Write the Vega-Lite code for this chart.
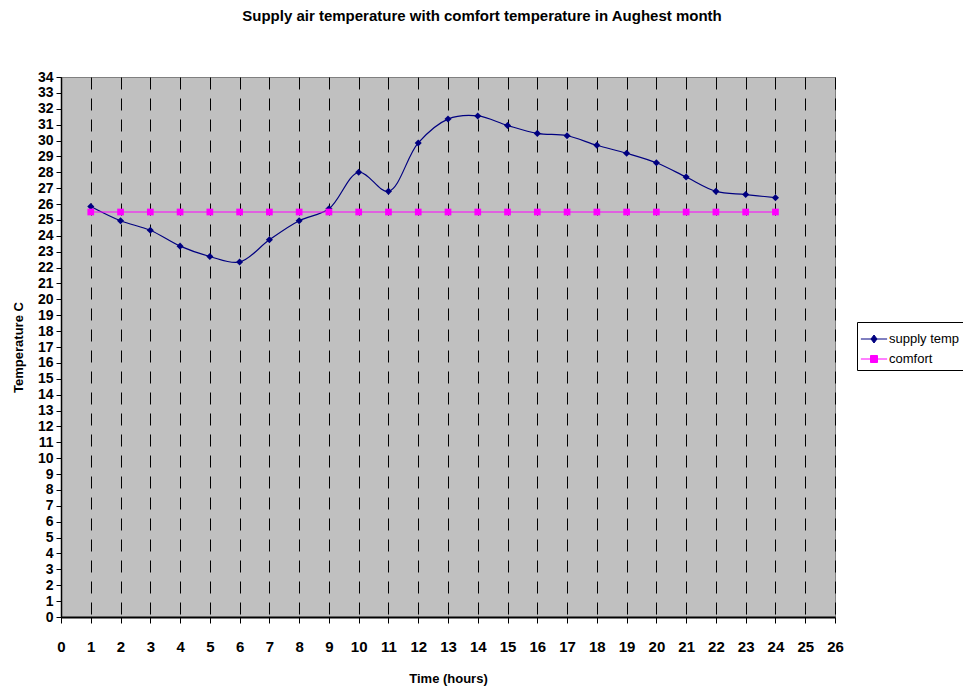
{
  "$schema": "https://vega.github.io/schema/vega-lite/v6.json",
  "autosize": {"type": "none"},
  "padding": {"left": 61, "top": 77, "right": 128, "bottom": 69},
  "width": 774,
  "height": 540,
  "background": "white",
  "config": {
    "view": {"fill": "#C0C0C0", "stroke": "#808080", "strokeWidth": 1},
    "font": "Liberation Sans"
  },
  "title": {
    "text": "Supply air temperature with comfort temperature in Aughest month",
    "font": "Liberation Sans",
    "fontSize": 15,
    "fontWeight": "bold",
    "color": "black",
    "anchor": "middle",
    "dx": 34,
    "offset": 46
  },
  "data": {
    "values": [
      {"hour": 1, "temp": 25.85, "series": "supply temp"},
      {"hour": 2, "temp": 24.95, "series": "supply temp"},
      {"hour": 3, "temp": 24.35, "series": "supply temp"},
      {"hour": 4, "temp": 23.35, "series": "supply temp"},
      {"hour": 5, "temp": 22.7, "series": "supply temp"},
      {"hour": 6, "temp": 22.35, "series": "supply temp"},
      {"hour": 7, "temp": 23.75, "series": "supply temp"},
      {"hour": 8, "temp": 24.95, "series": "supply temp"},
      {"hour": 9, "temp": 25.7, "series": "supply temp"},
      {"hour": 10, "temp": 28.0, "series": "supply temp"},
      {"hour": 11, "temp": 26.8, "series": "supply temp"},
      {"hour": 12, "temp": 29.85, "series": "supply temp"},
      {"hour": 13, "temp": 31.35, "series": "supply temp"},
      {"hour": 14, "temp": 31.55, "series": "supply temp"},
      {"hour": 15, "temp": 30.95, "series": "supply temp"},
      {"hour": 16, "temp": 30.45, "series": "supply temp"},
      {"hour": 17, "temp": 30.3, "series": "supply temp"},
      {"hour": 18, "temp": 29.7, "series": "supply temp"},
      {"hour": 19, "temp": 29.2, "series": "supply temp"},
      {"hour": 20, "temp": 28.6, "series": "supply temp"},
      {"hour": 21, "temp": 27.7, "series": "supply temp"},
      {"hour": 22, "temp": 26.8, "series": "supply temp"},
      {"hour": 23, "temp": 26.6, "series": "supply temp"},
      {"hour": 24, "temp": 26.4, "series": "supply temp"},
      {"hour": 1, "temp": 25.5, "series": "comfort"},
      {"hour": 2, "temp": 25.5, "series": "comfort"},
      {"hour": 3, "temp": 25.5, "series": "comfort"},
      {"hour": 4, "temp": 25.5, "series": "comfort"},
      {"hour": 5, "temp": 25.5, "series": "comfort"},
      {"hour": 6, "temp": 25.5, "series": "comfort"},
      {"hour": 7, "temp": 25.5, "series": "comfort"},
      {"hour": 8, "temp": 25.5, "series": "comfort"},
      {"hour": 9, "temp": 25.5, "series": "comfort"},
      {"hour": 10, "temp": 25.5, "series": "comfort"},
      {"hour": 11, "temp": 25.5, "series": "comfort"},
      {"hour": 12, "temp": 25.5, "series": "comfort"},
      {"hour": 13, "temp": 25.5, "series": "comfort"},
      {"hour": 14, "temp": 25.5, "series": "comfort"},
      {"hour": 15, "temp": 25.5, "series": "comfort"},
      {"hour": 16, "temp": 25.5, "series": "comfort"},
      {"hour": 17, "temp": 25.5, "series": "comfort"},
      {"hour": 18, "temp": 25.5, "series": "comfort"},
      {"hour": 19, "temp": 25.5, "series": "comfort"},
      {"hour": 20, "temp": 25.5, "series": "comfort"},
      {"hour": 21, "temp": 25.5, "series": "comfort"},
      {"hour": 22, "temp": 25.5, "series": "comfort"},
      {"hour": 23, "temp": 25.5, "series": "comfort"},
      {"hour": 24, "temp": 25.5, "series": "comfort"}
    ]
  },
  "encoding": {
    "x": {
      "field": "hour",
      "type": "quantitative",
      "scale": {"domain": [0, 26], "nice": false, "zero": true},
      "axis": {
        "title": "Time (hours)",
        "values": [0,1,2,3,4,5,6,7,8,9,10,11,12,13,14,15,16,17,18,19,20,21,22,23,24,25,26],
        "grid": true,
        "gridColor": "black",
        "gridDash": [12, 9],
        "gridWidth": 1,
        "gridOpacity": 1,
        "domainColor": "black",
        "domainWidth": 2,
        "tickColor": "black",
        "tickSize": 6,
        "labelPadding": 16,
        "labelFont": "Liberation Sans",
        "labelFontWeight": "bold",
        "labelFontSize": 15,
        "labelColor": "black",
        "labelFlush": false,
        "labelOverlap": false,
        "titleFont": "Liberation Sans",
        "titleFontWeight": "bold",
        "titleFontSize": 13,
        "titleColor": "black",
        "titlePadding": 18
      }
    },
    "y": {
      "field": "temp",
      "type": "quantitative",
      "scale": {"domain": [0, 34], "nice": false},
      "axis": {
        "title": "Temperature C",
        "values": [0,1,2,3,4,5,6,7,8,9,10,11,12,13,14,15,16,17,18,19,20,21,22,23,24,25,26,27,28,29,30,31,32,33,34],
        "grid": false,
        "domainColor": "black",
        "domainWidth": 1.5,
        "tickColor": "black",
        "tickSize": 5,
        "labelPadding": 3,
        "labelFont": "Liberation Sans",
        "labelFontWeight": "bold",
        "labelFontSize": 14,
        "labelColor": "black",
        "labelFlush": false,
        "labelOverlap": false,
        "titleFont": "Liberation Sans",
        "titleFontWeight": "bold",
        "titleFontSize": 13,
        "titleColor": "black",
        "titlePadding": 12
      }
    }
  },
  "layer": [
    {
      "transform": [{"filter": "datum.series === 'supply temp'"}],
      "mark": {"type": "line", "interpolate": "catmull-rom", "strokeWidth": 1.2, "color": "#000080"},
      "encoding": {}
    },
    {
      "transform": [{"filter": "datum.series === 'comfort'"}],
      "mark": {"type": "line", "strokeWidth": 1.2, "color": "#FF00FF"},
      "encoding": {}
    },
    {
      "transform": [{"filter": "datum.series === 'supply temp'"}],
      "mark": {"type": "point", "shape": "diamond", "filled": true, "opacity": 1, "size": 50, "color": "#000080"}
    },
    {
      "transform": [{"filter": "datum.series === 'comfort'"}],
      "mark": {"type": "point", "shape": "square", "filled": true, "opacity": 1, "size": 45, "color": "#FF00FF"}
    },
    {
      "mark": {"type": "point", "filled": true, "opacity": 0, "size": 625, "strokeWidth": 1},
      "encoding": {
        "shape": {
          "field": "series",
          "type": "nominal",
          "scale": {
            "domain": ["supply temp", "comfort"],
            "range": ["M-1.05,0H1.05M0,-0.32L0.24,0L0,0.32L-0.24,0Z", "M-1.05,0H1.05M-0.28,-0.28H0.28V0.28H-0.28Z"]
          },
          "legend": {
            "title": null,
            "orient": "none",
            "legendX": 796,
            "legendY": 245,
            "padding": 4,
            "strokeColor": "black",
            "fillColor": "white",
            "symbolSize": 625,
            "symbolStrokeWidth": 1,
            "symbolOpacity": 1,
            "labelOffset": 2,
            "labelFont": "Liberation Sans",
            "labelFontSize": 13,
            "labelColor": "black",
            "rowPadding": 0
          }
        },
        "fill": {
          "field": "series",
          "type": "nominal",
          "scale": {"domain": ["supply temp", "comfort"], "range": ["#000080", "#FF00FF"]}
        },
        "stroke": {
          "field": "series",
          "type": "nominal",
          "scale": {"domain": ["supply temp", "comfort"], "range": ["#000080", "#FF00FF"]}
        }
      }
    }
  ]
}
